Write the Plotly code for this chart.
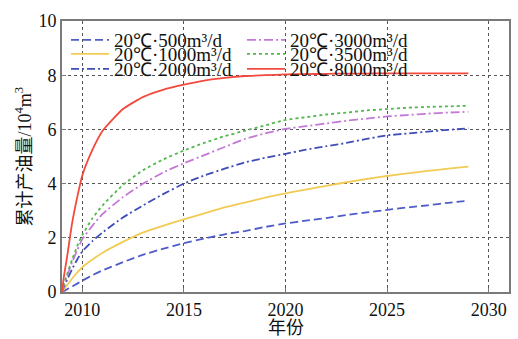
import plotly.graph_objects as go

# Year axis sampling for the cumulative production curves
years = [2009.0, 2009.1, 2009.25, 2009.5, 2009.75, 2010, 2010.5, 2011, 2012, 2013, 2014,
         2015, 2016, 2017, 2018, 2019, 2020, 2021, 2022, 2023, 2024, 2025, 2026, 2027,
         2028, 2029]

# Cumulative oil production (10^4 m^3) for each injection rate at 20 ℃
q500 = [0, 0.04, 0.10, 0.20, 0.31, 0.42, 0.62, 0.80, 1.10, 1.38, 1.60, 1.80, 1.97,
        2.13, 2.25, 2.40, 2.53, 2.63, 2.73, 2.84, 2.94, 3.03, 3.12, 3.20, 3.29, 3.37]
q1000 = [0, 0.10, 0.25, 0.50, 0.72, 0.92, 1.20, 1.45, 1.85, 2.20, 2.45, 2.68, 2.90,
         3.12, 3.30, 3.48, 3.64, 3.78, 3.92, 4.05, 4.17, 4.28, 4.38, 4.47, 4.55, 4.63]
q2000 = [0, 0.20, 0.45, 0.85, 1.20, 1.50, 1.88, 2.20, 2.75, 3.20, 3.62, 4.00, 4.30,
         4.55, 4.78, 4.95, 5.10, 5.25, 5.38, 5.50, 5.65, 5.78, 5.85, 5.92, 5.98, 6.04]
q3000 = [0, 0.27, 0.60, 1.10, 1.55, 1.95, 2.45, 2.88, 3.50, 4.00, 4.42, 4.75, 5.05,
         5.35, 5.65, 5.85, 6.02, 6.12, 6.22, 6.32, 6.40, 6.48, 6.53, 6.58, 6.62, 6.65]
q3500 = [0, 0.30, 0.65, 1.20, 1.70, 2.10, 2.72, 3.20, 3.95, 4.50, 4.90, 5.22, 5.50,
         5.75, 5.95, 6.15, 6.35, 6.45, 6.55, 6.62, 6.70, 6.75, 6.80, 6.83, 6.85, 6.87]
q8000 = [0, 0.60, 1.30, 2.55, 3.50, 4.30, 5.25, 5.95, 6.75, 7.20, 7.47, 7.65, 7.80,
         7.90, 7.97, 8.00, 8.03, 8.04, 8.05, 8.06, 8.06, 8.07, 8.07, 8.07, 8.07, 8.07]

names = ["20℃·500m³/d", "20℃·1000m³/d", "20℃·2000m³/d",
         "20℃·3000m³/d", "20℃·3500m³/d", "20℃·8000m³/d"]
series = [q500, q1000, q2000, q3000, q3500, q8000]

colors = ["#4f5cc8", "#f2cb55", "#3f4db8", "#c479d6", "#52b84c", "#f24a3c"]
dashes = ["8px,4px", "solid", "8px,3px,2px,3px", "9px,3px,2px,3px", "3px,3px", "solid"]

x0_px, x1_px, y0_px, y1_px = 62, 509, 21, 292
W, H = 518, 339

def paper_x(px):
    return (px - x0_px) / (x1_px - x0_px)

def paper_y(py):
    return (y1_px - py) / (y1_px - y0_px)

# legend placement: two columns of three rows
leg_x = [66, 66, 66, 242, 242, 242]
leg_y = [40, 54, 69, 40, 54, 69]

serif = "'Liberation Serif', serif"

fig = go.Figure()
layout_legends = {}
for i, (nm, ys, c, d) in enumerate(zip(names, series, colors, dashes)):
    key = "legend" if i == 0 else f"legend{i + 1}"
    fig.add_trace(go.Scatter(
        x=years, y=ys, mode="lines", name=nm, legend=key, showlegend=True,
        line=dict(color=c, width=1.8, dash=d, shape="spline", smoothing=0.5),
    ))
    layout_legends[key] = dict(
        x=paper_x(leg_x[i]), y=paper_y(leg_y[i]), xanchor="left", yanchor="middle",
        bgcolor="rgba(0,0,0,0)", borderwidth=0, itemwidth=38, visible=True,
        font=dict(family=serif, size=19, color="#111"),
    )

axis_common = dict(
    showline=True, mirror=True, linecolor="#7a7a7a", linewidth=2,
    ticks="inside", ticklen=4, tickcolor="#7a7a7a",
    showgrid=True, gridcolor="#555", gridwidth=1, griddash="dot",
    zeroline=False, automargin=False,
    tickfont=dict(family=serif, size=18, color="#111"),
)

title_font = dict(family="'Liberation Serif', 'Noto Sans CJK SC'", size=18, color="#111")

fig.update_layout(
    width=W, height=H, showlegend=True,
    margin=dict(l=x0_px, r=W - x1_px, t=y0_px, b=H - y1_px),
    paper_bgcolor="white", plot_bgcolor="white",
    xaxis=dict(range=[2009, 2031], tickvals=[2010, 2015, 2020, 2025, 2030],
               **axis_common),
    yaxis=dict(range=[0, 10], tickvals=[0, 2, 4, 6, 8, 10], **axis_common),
    annotations=[
        dict(text="年份", xref="paper", yref="paper", x=0.5, y=paper_y(328),
             xanchor="center", yanchor="middle", showarrow=False, font=title_font),
        dict(text="累计产油量/10<sup>4</sup>m<sup>3</sup>", xref="paper", yref="paper",
             x=paper_x(24), y=0.5, xanchor="center", yanchor="middle",
             textangle=-90, showarrow=False, font=title_font),
    ],
    **layout_legends,
)

fig.write_html("out.html")
